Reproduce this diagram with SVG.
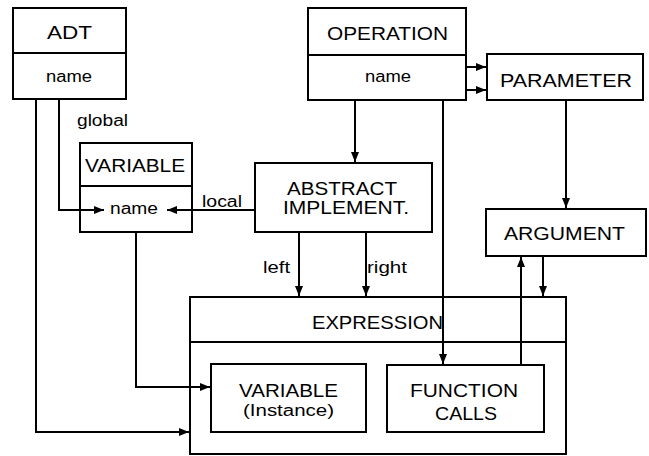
<svg xmlns="http://www.w3.org/2000/svg" width="649" height="456" viewBox="0 0 649 456">
<style>
.box{fill:#fff;stroke:#000;stroke-width:2}
.ln{fill:none;stroke:#000;stroke-width:2}
.t{font-family:"Liberation Sans",Arial,sans-serif;font-size:19px;fill:#000;text-anchor:middle}
.s{font-family:"Liberation Sans",Arial,sans-serif;font-size:16px;fill:#000}
.sm{text-anchor:middle}
</style>
<defs>
<marker id="ah" markerUnits="userSpaceOnUse" markerWidth="10" markerHeight="8" refX="10" refY="4" orient="auto">
<path d="M0,0 L10,4 L0,8 Z" fill="#000"/>
</marker>
</defs>
<rect width="649" height="456" fill="#fff"/>
<g id="adt">
<rect class="box" x="13" y="8" width="113" height="91"/>
<line class="ln" x1="13" y1="53" x2="126" y2="53"/>
<text class="t" x="69.5" y="39" textLength="45" lengthAdjust="spacingAndGlyphs">ADT</text>
<text class="s sm" x="69" y="82" textLength="46" lengthAdjust="spacingAndGlyphs">name</text>
</g>
<g id="variable">
<rect class="box" x="80" y="143" width="112" height="89"/>
<line class="ln" x1="80" y1="186" x2="192" y2="186"/>
<text class="t" x="135" y="172" textLength="100" lengthAdjust="spacingAndGlyphs">VARIABLE</text>
<text class="s sm" x="134" y="214" textLength="48" lengthAdjust="spacingAndGlyphs">name</text>
</g>
<g id="operation">
<rect class="box" x="308" y="8" width="158" height="92"/>
<line class="ln" x1="308" y1="55" x2="466" y2="55"/>
<text class="t" x="387.5" y="40" textLength="121" lengthAdjust="spacingAndGlyphs">OPERATION</text>
<text class="s sm" x="388" y="82" textLength="46" lengthAdjust="spacingAndGlyphs">name</text>
</g>
<g id="parameter">
<rect class="box" x="487" y="54" width="156" height="46"/>
<text class="t" x="566" y="87" textLength="132" lengthAdjust="spacingAndGlyphs">PARAMETER</text>
</g>
<g id="abstract">
<rect class="box" x="255" y="163" width="177" height="69"/>
<text class="t" x="342" y="195" textLength="110" lengthAdjust="spacingAndGlyphs">ABSTRACT</text>
<text class="t" x="346" y="214" textLength="126" lengthAdjust="spacingAndGlyphs">IMPLEMENT.</text>
</g>
<g id="argument">
<rect class="box" x="486" y="209" width="160" height="47"/>
<text class="t" x="564.5" y="240" textLength="121" lengthAdjust="spacingAndGlyphs">ARGUMENT</text>
</g>
<g id="expression">
<rect class="box" x="190" y="297" width="376" height="157"/>
<line class="ln" x1="190" y1="342" x2="566" y2="342"/>
<text class="t" x="377.5" y="329" textLength="131" lengthAdjust="spacingAndGlyphs">EXPRESSION</text>
</g>
<g id="variable-instance">
<rect class="box" x="211" y="364" width="155" height="68"/>
<text class="t" x="288.5" y="397" textLength="99" lengthAdjust="spacingAndGlyphs">VARIABLE</text>
<text class="s sm" x="288.5" y="416" font-size="17" textLength="91" lengthAdjust="spacingAndGlyphs">(Instance)</text>
</g>
<g id="function-calls">
<rect class="box" x="387" y="365" width="157" height="67"/>
<text class="t" x="464" y="397" textLength="108" lengthAdjust="spacingAndGlyphs">FUNCTION</text>
<text class="t" x="466" y="420" textLength="62" lengthAdjust="spacingAndGlyphs">CALLS</text>
</g>
<g id="connectors">
<path class="ln" d="M36,99 V432 H189" marker-end="url(#ah)"/>
<path class="ln" d="M59,99 V210 H104" marker-end="url(#ah)"/>
<path class="ln" d="M255,210 H167" marker-end="url(#ah)"/>
<path class="ln" d="M136,232 V387 H210" marker-end="url(#ah)"/>
<path class="ln" d="M355,100 V162" marker-end="url(#ah)"/>
<path class="ln" d="M466,67 H486" marker-end="url(#ah)"/>
<path class="ln" d="M466,90 H486" marker-end="url(#ah)"/>
<path class="ln" d="M443,100 V364" marker-end="url(#ah)"/>
<path class="ln" d="M566,100 V208" marker-end="url(#ah)"/>
<path class="ln" d="M299,232 V296" marker-end="url(#ah)"/>
<path class="ln" d="M366,232 V296" marker-end="url(#ah)"/>
<path class="ln" d="M521,365 V257" marker-end="url(#ah)"/>
<path class="ln" d="M543,256 V296" marker-end="url(#ah)"/>
<text class="s" x="77" y="126" textLength="51" lengthAdjust="spacingAndGlyphs">global</text>
<text class="s" x="202" y="207" textLength="40" lengthAdjust="spacingAndGlyphs">local</text>
<text class="s" x="263" y="273" textLength="27" lengthAdjust="spacingAndGlyphs">left</text>
<text class="s" x="367" y="273" textLength="40" lengthAdjust="spacingAndGlyphs">right</text>
</g>
</svg>
